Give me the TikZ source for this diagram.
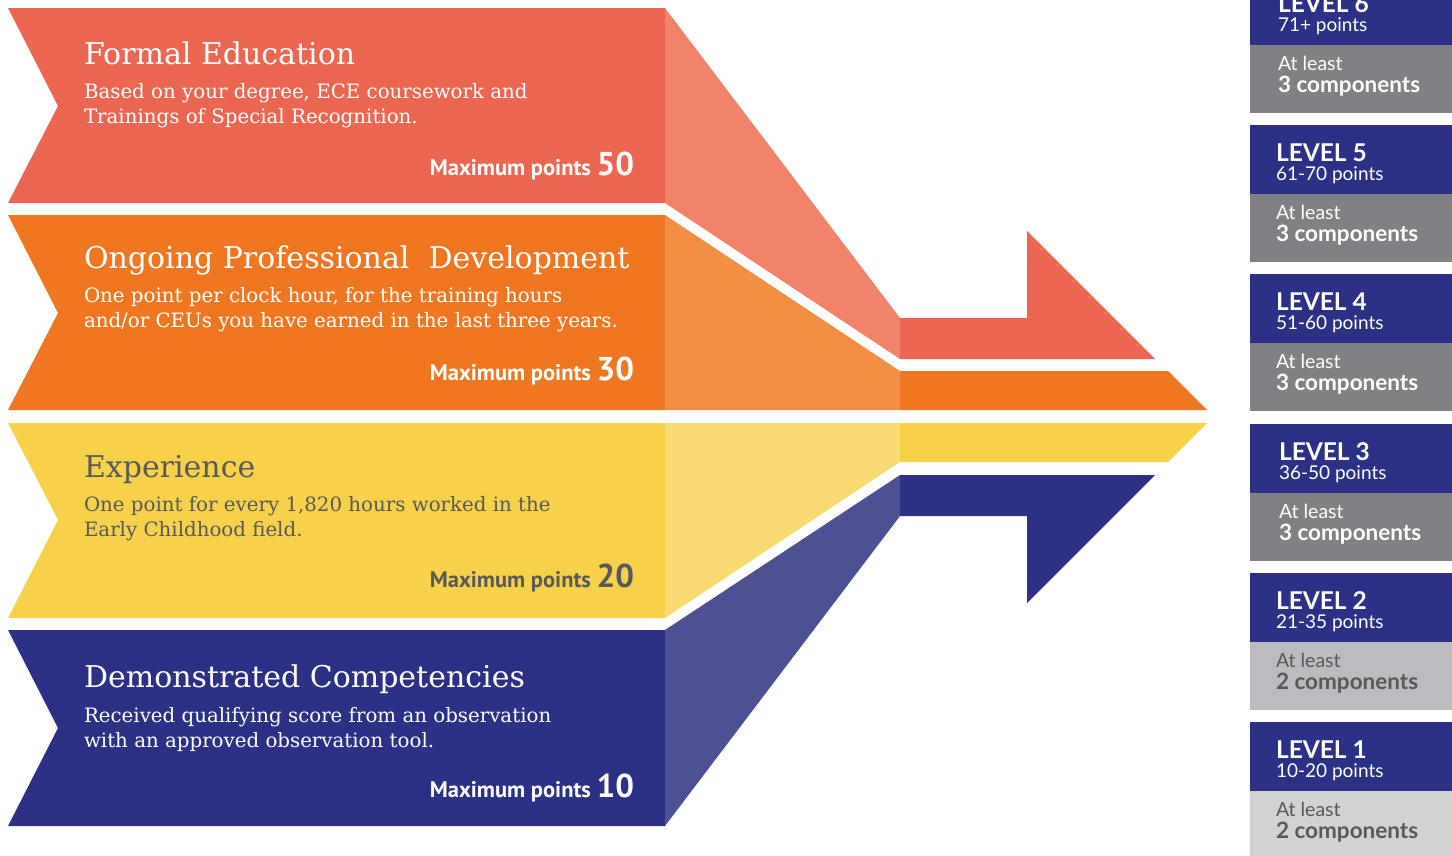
\documentclass[tikz,border=0pt]{standalone}
\usepackage{fontspec}
\setmainfont{DejaVu Serif}
\newfontfamily\ptsans{PT Sans}
\newfontfamily\lato{Lato}
\definecolor{cred}{HTML}{EB6751}
\definecolor{credL}{HTML}{F08369}
\definecolor{corange}{HTML}{F07722}
\definecolor{corangeL}{HTML}{F28F45}
\definecolor{cyellow}{HTML}{F8D14A}
\definecolor{cyellowL}{HTML}{F8DB73}
\definecolor{cnavy}{HTML}{2C3185}
\definecolor{cnavyL}{HTML}{4D5194}
\definecolor{cgrey}{HTML}{808184}
\definecolor{cgreyB}{HTML}{BBBCBF}
\definecolor{cgreyC}{HTML}{D1D2D4}
\definecolor{ctxt}{HTML}{58595B}
\tikzset{
  txt/.style={inner sep=0pt, outer sep=0pt},
  title/.style={txt, anchor=base west, font=\fontsize{30}{34}\selectfont},
  desc/.style={txt, anchor=base west, font=\fontsize{19.8}{23}\selectfont},
  maxpts/.style={txt, anchor=base east, font=\ptsans\bfseries\fontsize{22.5}{25}\selectfont},
  lvl/.style={txt, anchor=base west, font=\lato\bfseries\fontsize{24.5}{26}\selectfont},
  lvlpts/.style={txt, anchor=base west, font=\lato\fontsize{19}{22}\selectfont},
  atleast/.style={txt, anchor=base west, font=\lato\fontsize{19.5}{22}\selectfont},
  comps/.style={txt, anchor=base west, font=\lato\bfseries\fontsize{22.5}{25}\selectfont},
}
\newcommand{\bignum}[1]{{\fontsize{33}{36}\selectfont #1}}
\begin{document}
\begin{tikzpicture}[x=1pt,y=-1pt]
\useasboundingbox (0,0) rectangle (1452,855);
\fill[white] (0,0) rectangle (1452,855);
% Band 1
\fill[cred] (8,8) -- (665,8) -- (665,203) -- (8,203) -- (58,106) -- cycle;
\fill[credL] (665,8) -- (900,318) -- (900,359) -- (665,203) -- cycle;
\fill[cred] (900,318) -- (1027,318) -- (1027,231) -- (1155,359) -- (900,359) -- cycle;
% Band 2
\fill[corange] (8,215) -- (665,215) -- (665,410) -- (8,410) -- (58,313) -- cycle;
\fill[corangeL] (665,215) -- (900,371) -- (900,410) -- (665,410) -- cycle;
\fill[corange] (900,371) -- (1168,371) -- (1207,410) -- (900,410) -- cycle;
% Band 3
\fill[cyellow] (8,423) -- (665,423) -- (665,618) -- (8,618) -- (58,520) -- cycle;
\fill[cyellowL] (665,423) -- (900,423) -- (900,462) -- (665,618) -- cycle;
\fill[cyellow] (900,423) -- (1207,423) -- (1168,462) -- (900,462) -- cycle;
% Band 4
\fill[cnavy] (8,630) -- (665,630) -- (665,826) -- (8,826) -- (58,728) -- cycle;
\fill[cnavyL] (665,630) -- (900,475) -- (900,516) -- (665,826) -- cycle;
\fill[cnavy] (900,475) -- (1155,475) -- (1027,603) -- (1027,516) -- (900,516) -- cycle;

% Texts band 1
\node[title, text=white] (t1) at (84,64) {Formal Education};
\node[desc, text=white] (d1a) at (84,98) {Based on your degree, ECE coursework and};
\node[desc, text=white] (d1b) at (84,123) {Trainings of Special Recognition.};
\node[maxpts, text=white] (m1) at (634,175) {Maximum points \bignum{50}};
% Band 2
\node[title, text=white] (t2) at (84,268) {Ongoing Professional\ \ Development};
\node[desc, text=white] (d2a) at (84,302) {One point per clock hour, for the training hours};
\node[desc, text=white] (d2b) at (84,327) {and/or CEUs you have earned in the last three years.};
\node[maxpts, text=white] (m2) at (634,380) {Maximum points \bignum{30}};
% Band 3
\node[title, text=ctxt] (t3) at (84,477) {Experience};
\node[desc, text=ctxt] (d3a) at (84,511) {One point for every 1,820 hours worked in the};
\node[desc, text=ctxt] (d3b) at (84,536) {Early Childhood field.};
\node[maxpts, text=ctxt] (m3) at (634,587) {Maximum points \bignum{20}};
% Band 4
\node[title, text=white] (t4) at (84,687) {Demonstrated Competencies};
\node[desc, text=white] (d4a) at (84,722) {Received qualifying score from an observation};
\node[desc, text=white] (d4b) at (84,747) {with an approved observation tool.};
\node[maxpts, text=white] (m4) at (634,797) {Maximum points \bignum{10}};

% Levels
\foreach \tp/\n/\pts/\k/\gc/\tc/\tx in {-24/6/71+/3/cgrey/white/1278, 125/5/61-70/3/cgrey/white/1276, 274/4/51-60/3/cgrey/white/1276, 424/3/36-50/3/cgrey/white/1279, 573/2/21-35/2/cgreyB/ctxt/1276, 722/1/10-20/2/cgreyC/ctxt/1276}{
  \fill[cnavy] (1250,\tp) rectangle (1452,\tp+69);
  \fill[\gc] (1250,\tp+69) rectangle (1452,\tp+137);
  \node[lvl, text=white] (lv\n) at (\tx,\tp+36) {LEVEL \n};
  \node[lvlpts, text=white] (lp\n) at (\tx,\tp+55) {\pts{} points};
  \node[atleast, text=\tc] (la\n) at (\tx,\tp+94) {At least};
  \node[comps, text=\tc] (lc\n) at (\tx,\tp+116) {\k{} components};
}
\end{tikzpicture}
\end{document}
